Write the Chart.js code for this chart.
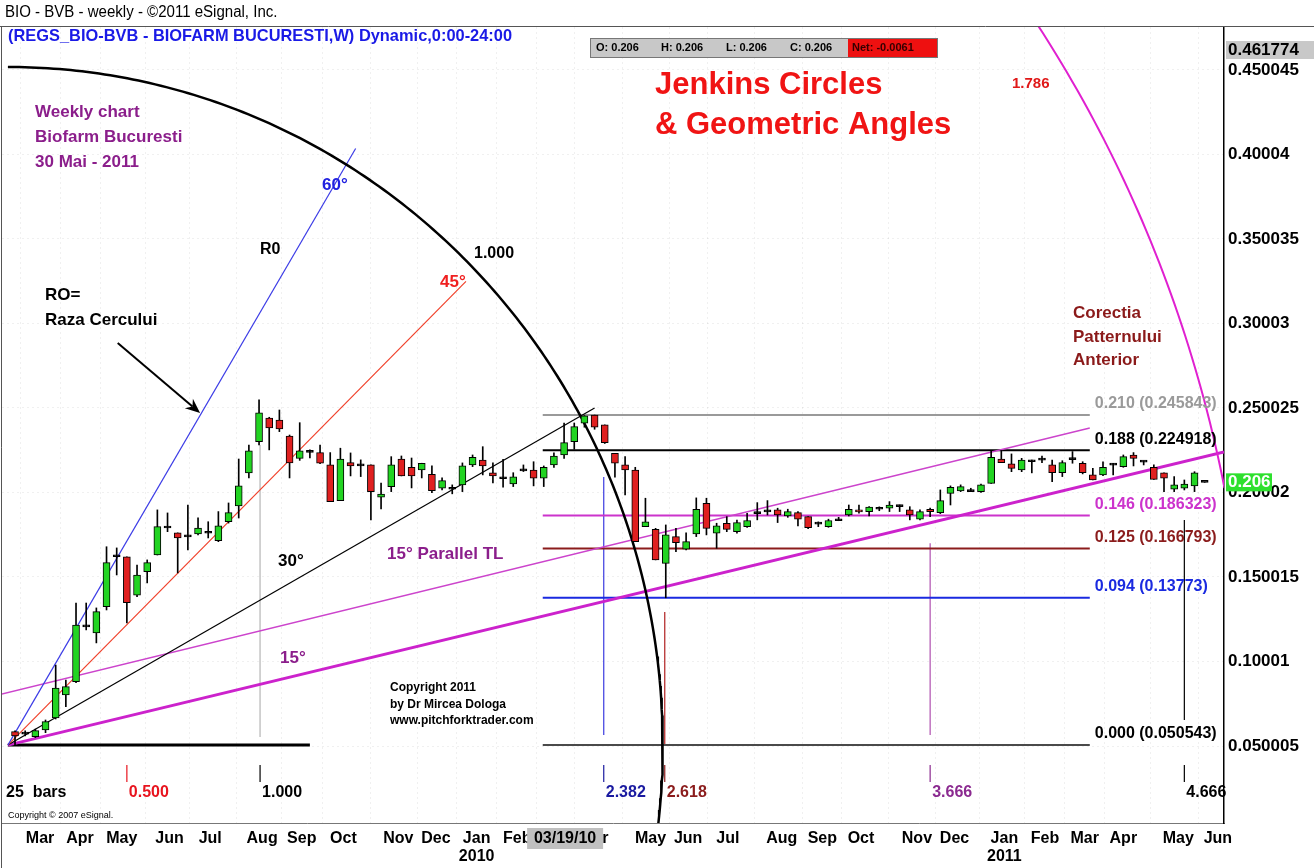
<!DOCTYPE html>
<html>
<head>
<meta charset="utf-8">
<script src="https://cdn.jsdelivr.net/npm/chart.js@4.4.0/dist/chart.umd.min.js"></script>
<style>
  html, body { margin: 0; padding: 0; background: #fff; }
  canvas { display: block; }
</style>
</head>
<body>
<canvas id="chart" width="1314" height="868"></canvas>
<script>
// weekly candles, BIO (Biofarm Bucuresti), Mar 2009 - May 2011, index = week number
const open = [
  0.0585, 0.0570, 0.0555, 0.0595, 0.0666, 0.0802, 0.0881, 0.1205, 0.1169, 0.1324,
  0.1620, 0.1620, 0.1393, 0.1532, 0.1630, 0.1790, 0.1761, 0.1737, 0.1755, 0.1759,
  0.1715, 0.1828, 0.1920, 0.2115, 0.2301, 0.2440, 0.2429, 0.2334, 0.2202, 0.2237,
  0.2236, 0.2163, 0.1952, 0.2177, 0.2157, 0.2163, 0.1972, 0.2035, 0.2197, 0.2149,
  0.2133, 0.2108, 0.2025, 0.2019, 0.2045, 0.2163, 0.2192, 0.2117, 0.2081, 0.2050,
  0.2128, 0.2133, 0.2084, 0.2163, 0.2222, 0.2301, 0.2410, 0.2458, 0.2400, 0.2232,
  0.2163, 0.2133, 0.1798, 0.1782, 0.1581, 0.1739, 0.1664, 0.1755, 0.1936, 0.1759,
  0.1818, 0.1768, 0.1798, 0.1875, 0.1885, 0.1897, 0.1861, 0.1881, 0.1857, 0.1813,
  0.1798, 0.1833, 0.1867, 0.1895, 0.1887, 0.1901, 0.1907, 0.1916, 0.1897, 0.1842,
  0.1901, 0.1880, 0.1995, 0.2009, 0.2005, 0.2005, 0.2054, 0.2198, 0.2169, 0.2133,
  0.2182, 0.2191, 0.2163, 0.2117, 0.2194, 0.2173, 0.2104, 0.2104, 0.2162, 0.2153,
  0.2222, 0.2180, 0.2149, 0.2117, 0.2019, 0.2025, 0.2039, 0.2060
];
const high = [
  0.0590, 0.0590, 0.0600, 0.0654, 0.0979, 0.0890, 0.1346, 0.1346, 0.1317, 0.1679,
  0.1672, 0.1620, 0.1571, 0.1601, 0.1897, 0.1879, 0.1761, 0.1926, 0.1850, 0.1827,
  0.1887, 0.1938, 0.2198, 0.2281, 0.2548, 0.2445, 0.2488, 0.2340, 0.2413, 0.2252,
  0.2281, 0.2236, 0.2262, 0.2234, 0.2193, 0.2163, 0.2056, 0.2212, 0.2216, 0.2204,
  0.2173, 0.2157, 0.2086, 0.2045, 0.2175, 0.2222, 0.2271, 0.2175, 0.2196, 0.2117,
  0.2163, 0.2182, 0.2157, 0.2234, 0.2411, 0.2411, 0.2455, 0.2458, 0.2400, 0.2232,
  0.2212, 0.2149, 0.1966, 0.1788, 0.1808, 0.1788, 0.1762, 0.1968, 0.1966, 0.1818,
  0.1857, 0.1837, 0.1877, 0.1940, 0.1952, 0.1907, 0.1901, 0.1887, 0.1857, 0.1826,
  0.1842, 0.1853, 0.1926, 0.1926, 0.1916, 0.1915, 0.1946, 0.1926, 0.1916, 0.1897,
  0.1907, 0.2015, 0.2039, 0.2045, 0.2025, 0.2050, 0.2247, 0.2249, 0.2228, 0.2202,
  0.2192, 0.2216, 0.2192, 0.2188, 0.2242, 0.2182, 0.2143, 0.2182, 0.2173, 0.2222,
  0.2236, 0.2187, 0.2163, 0.2117, 0.2094, 0.2074, 0.2123, 0.2060
];
const low = [
  0.0505, 0.0560, 0.0550, 0.0579, 0.0660, 0.0733, 0.0875, 0.1187, 0.1110, 0.1305,
  0.1512, 0.1228, 0.1384, 0.1465, 0.1630, 0.1768, 0.1524, 0.1660, 0.1749, 0.1731,
  0.1709, 0.1819, 0.1849, 0.2086, 0.2281, 0.2252, 0.2360, 0.2086, 0.2190, 0.2205,
  0.2170, 0.1946, 0.1952, 0.2098, 0.2094, 0.1837, 0.1903, 0.2005, 0.2098, 0.2027,
  0.2086, 0.1999, 0.2015, 0.1992, 0.2005, 0.2153, 0.2104, 0.2056, 0.2031, 0.2035,
  0.2124, 0.2039, 0.2035, 0.2149, 0.2202, 0.2256, 0.2386, 0.2374, 0.2290, 0.2090,
  0.1985, 0.1709, 0.1798, 0.1601, 0.1377, 0.1650, 0.1660, 0.1739, 0.1749, 0.1670,
  0.1768, 0.1759, 0.1794, 0.1838, 0.1867, 0.1822, 0.1853, 0.1802, 0.1786, 0.1798,
  0.1794, 0.1833, 0.1861, 0.1877, 0.1861, 0.1892, 0.1887, 0.1887, 0.1838, 0.1838,
  0.1857, 0.1875, 0.1926, 0.2005, 0.2005, 0.2000, 0.2054, 0.2177, 0.2123, 0.2123,
  0.2116, 0.2177, 0.2064, 0.2094, 0.2173, 0.2110, 0.2074, 0.2100, 0.2104, 0.2149,
  0.2157, 0.2163, 0.2078, 0.2005, 0.2005, 0.2015, 0.2005, 0.2060
];
const close = [
  0.0559, 0.0575, 0.0591, 0.0644, 0.0843, 0.0851, 0.1216, 0.1210, 0.1295, 0.1585,
  0.1626, 0.1348, 0.1512, 0.1585, 0.1798, 0.1795, 0.1731, 0.1741, 0.1790, 0.1762,
  0.1802, 0.1881, 0.2039, 0.2246, 0.2471, 0.2382, 0.2376, 0.2175, 0.2247, 0.2238,
  0.2173, 0.1946, 0.2198, 0.2157, 0.2159, 0.2005, 0.1991, 0.2163, 0.2098, 0.2098,
  0.2173, 0.2011, 0.2070, 0.2021, 0.2157, 0.2208, 0.2157, 0.2098, 0.2083, 0.2092,
  0.2130, 0.2084, 0.2149, 0.2216, 0.2295, 0.2390, 0.2453, 0.2386, 0.2295, 0.2173,
  0.2133, 0.1709, 0.1827, 0.1601, 0.1749, 0.1703, 0.1709, 0.1901, 0.1788, 0.1802,
  0.1782, 0.1822, 0.1834, 0.1877, 0.1887, 0.1867, 0.1887, 0.1842, 0.1792, 0.1815,
  0.1834, 0.1835, 0.1901, 0.1885, 0.1913, 0.1903, 0.1926, 0.1918, 0.1867, 0.1887,
  0.1887, 0.1952, 0.2031, 0.2035, 0.2007, 0.2045, 0.2208, 0.2177, 0.2143, 0.2192,
  0.2184, 0.2193, 0.2117, 0.2177, 0.2196, 0.2117, 0.2074, 0.2149, 0.2164, 0.2212,
  0.2202, 0.2182, 0.2078, 0.2084, 0.2045, 0.2050, 0.2117, 0.2060
];

// axis ticks
const monthPos = [2.46, 6.39, 10.5, 15.2, 19.2, 24.3, 28.2, 32.3, 37.7, 41.4, 45.4, 49.4, 53.1, 57.0,
  62.5, 66.2, 70.1, 75.4, 79.4, 83.2, 88.7, 92.4, 97.3, 101.3, 105.2, 109.0, 114.4, 118.3];
const monthLabels = ['Mar', 'Apr', 'May', 'Jun', 'Jul', 'Aug', 'Sep', 'Oct', 'Nov', 'Dec', ['Jan', '2010'], 'Feb',
  'Mar', 'Apr', 'May', 'Jun', 'Jul', 'Aug', 'Sep', 'Oct', 'Nov', 'Dec', ['Jan', '2011'], 'Feb', 'Mar', 'Apr', 'May', 'Jun'];
const priceTicks = [0.050005, 0.10001, 0.150015, 0.20002, 0.250025, 0.30003, 0.350035, 0.40004, 0.450045];
const priceLabels = ['0.050005', '0.10001', '0.150015', '0.20002', '0.250025', '0.30003', '0.350035', '0.40004', '0.450045'];
const lastPrice = 0.206;
const topPrice = 0.461774;

// Jenkins construction
const pivot = [-0.7, 0.050543];
const angleEnds = [[33.5, 0.4035], [44.35, 0.3249], [57.0, 0.2500], [118.9, 0.2240]];
const parallelTL = [[-1.3, 0.0808], [105.7, 0.2382]];
const circle1 = [64.4, 0.4012];   // 1.000 circle radii (bars, price)
const circle2 = [122.1, 0.7627];  // 1.786 circle radii
const fibRatio = ['0.210', '0.188', '0.146', '0.125', '0.094', '0.000'];
const fibPrice = [0.245843, 0.224918, 0.186323, 0.166793, 0.13773, 0.050543];
const fibRange = [51.9, 105.7];
const baseRange = [-0.7, 29.0];
const timeRatio = ['0.500', '1.000', '2.382', '2.618', '3.666', '4.666'];
const timeIdx = [11.0, 24.1, 57.9, 63.9, 90.0, 115.0];
const timeTop = [null, 0.2281, 0.2092, 0.1293, 0.1700, 0.1837];
const timeBottom = [null, 0.0553, 0.0565, 0.0506, 0.0565, 0.0654];
const arrowPts = [[10.1, 0.2885], [18.2, 0.2470]];
const markerIdx = 54.1;

const GREEN = '#22d422', RED = '#e02020';
const fibColors = ['#9a9a9a', '#000000', '#cc33cc', '#8b1c1c', '#1a2ae0', '#4a4a4a'];
const timeColors = ['#e8141e', '#000000', '#1a1aa0', '#8b1c1c', '#8b2a90', '#000000'];
const vlineColors = [null, '#c4c4c4', '#3a3ae0', '#b02020', '#b050b0', '#000000'];
const FONT = '"Liberation Sans", Arial, sans-serif';

Chart.defaults.font.family = FONT;

const idx = open.map((_, i) => i);
const bodies = idx.map(i => ({ x: i, y: [open[i], close[i]] }));
const bodyColors = idx.map(i => {
  const d = close[i] - open[i];
  if (Math.abs(d) < 0.0008) return '#000';
  return d > 0 ? GREEN : RED;
});
const wicks = idx.map(i => ({ x: i, y: [low[i], high[i]] }));

function line(pts, color, width, order) {
  return {
    type: 'line', data: pts.map(p => ({ x: p[0], y: p[1] })),
    borderColor: color, borderWidth: width, pointRadius: 0, tension: 0, fill: false, order
  };
}

function arc(r, a0, a1) {
  const pts = [];
  for (let a = a0; a >= a1; a -= 0.5) {
    const t = a * Math.PI / 180;
    pts.push([pivot[0] + r[0] * Math.cos(t), pivot[1] + r[1] * Math.sin(t)]);
  }
  return pts;
}

const datasets = [
  {
    type: 'bar', data: bodies, backgroundColor: bodyColors, borderColor: '#000', borderWidth: 1,
    borderSkipped: false, barThickness: 7, minBarLength: 2, grouped: false, order: 0
  },
  {
    type: 'bar', data: wicks, backgroundColor: '#000', borderWidth: 0,
    barThickness: 1, grouped: false, order: 1
  },
  line([pivot, angleEnds[0]], '#3c3ce6', 1.2, 3),
  line([pivot, angleEnds[1]], '#f0402a', 1.2, 3),
  line([pivot, angleEnds[2]], '#000', 1.2, 3),
  line([pivot, angleEnds[3]], '#cc22cc', 3, 3),
  line(parallelTL, '#cc44cc', 1.5, 3),
  line(arc(circle1, 90, -10), '#000', 2.5, 2),
  line(arc(circle2, 45, 0), '#e020d0', 2, 2),
  line([[baseRange[0], pivot[1]], [baseRange[1], pivot[1]]], '#000', 3, 3)
];
fibPrice.forEach((p, k) => {
  datasets.push(line([[fibRange[0], p], [fibRange[1], p]], fibColors[k], 2, 4));
});
timeIdx.forEach((t, k) => {
  if (timeTop[k] === null) return;
  datasets.push(line([[t, timeBottom[k]], [t, timeTop[k]]], vlineColors[k], k === 1 ? 1.5 : 1.2, 5));
});

function txt(ctx, s, x, y, color, font, align, sx) {
  ctx.save();
  ctx.font = font;
  ctx.fillStyle = color;
  ctx.textAlign = align || 'left';
  ctx.textBaseline = 'middle';
  ctx.translate(x, y);
  if (sx) ctx.scale(sx, 1);
  ctx.fillText(s, 0, 0);
  ctx.restore();
}

const overlay = {
  id: 'overlay',
  afterDatasetsDraw(chart) {
    const { ctx, scales: { x, y } } = chart;
    const px = v => x.getPixelForValue(v), py = v => y.getPixelForValue(v);
    ctx.save();

    // retracement labels
    fibPrice.forEach((p, k) => {
      txt(ctx, fibRatio[k] + ' (' + p + ')', px(fibRange[1]) + 5, py(p) - 11, fibColors[k] === '#4a4a4a' ? '#000' : fibColors[k], 'bold 16px ' + FONT);
    });

    // time ratio ticks and labels
    const base = py(pivot[1]);
    timeIdx.forEach((t, k) => {
      ctx.strokeStyle = timeColors[k];
      ctx.lineWidth = 1.2;
      ctx.beginPath();
      ctx.moveTo(px(t), base + 20);
      ctx.lineTo(px(t), base + 37);
      ctx.stroke();
      txt(ctx, timeRatio[k], px(t) + 2, base + 48, timeColors[k], 'bold 16px ' + FONT);
    });
    txt(ctx, '25  bars', 6, base + 48, '#000', 'bold 16px ' + FONT);

    // arrow to 60° line
    const a0 = [px(arrowPts[0][0]), py(arrowPts[0][1])], a1 = [px(arrowPts[1][0]), py(arrowPts[1][1])];
    const ang = Math.atan2(a1[1] - a0[1], a1[0] - a0[0]);
    ctx.strokeStyle = '#000';
    ctx.fillStyle = '#000';
    ctx.lineWidth = 2;
    ctx.beginPath();
    ctx.moveTo(a0[0], a0[1]);
    ctx.lineTo(a1[0] - 10 * Math.cos(ang), a1[1] - 10 * Math.sin(ang));
    ctx.stroke();
    ctx.beginPath();
    ctx.moveTo(a1[0], a1[1]);
    ctx.lineTo(a1[0] - 16 * Math.cos(ang - 0.4), a1[1] - 16 * Math.sin(ang - 0.4));
    ctx.lineTo(a1[0] - 10 * Math.cos(ang), a1[1] - 10 * Math.sin(ang));
    ctx.lineTo(a1[0] - 16 * Math.cos(ang + 0.4), a1[1] - 16 * Math.sin(ang + 0.4));
    ctx.closePath();
    ctx.fill();

    // annotations
    const B17 = 'bold 17px ' + FONT;
    txt(ctx, 'Jenkins Circles', 655, 85, '#f01414', 'bold 31px ' + FONT);
    txt(ctx, '& Geometric Angles', 655, 125, '#f01414', 'bold 31px ' + FONT);
    txt(ctx, '1.786', 1012, 84, '#e01818', 'bold 15px ' + FONT);
    txt(ctx, 'Weekly chart', 35, 112, '#8b1e8b', B17);
    txt(ctx, 'Biofarm Bucuresti', 35, 137, '#8b1e8b', B17);
    txt(ctx, '30 Mai - 2011', 35, 162, '#8b1e8b', B17);
    txt(ctx, '60°', 322, 185, '#2020e0', B17);
    txt(ctx, 'R0', 260, 250, '#000', 'bold 16px ' + FONT);
    txt(ctx, '1.000', 474, 254, '#000', 'bold 16px ' + FONT);
    txt(ctx, '45°', 440, 282, '#f02020', B17);
    txt(ctx, 'RO=', 45, 295, '#000', B17);
    txt(ctx, 'Raza Cercului', 45, 320, '#000', B17);
    txt(ctx, 'Corectia', 1073, 313, '#8b1a1a', B17);
    txt(ctx, 'Patternului', 1073, 337, '#8b1a1a', B17);
    txt(ctx, 'Anterior', 1073, 360, '#8b1a1a', B17);
    txt(ctx, '15° Parallel TL', 387, 554, '#8b1e8b', B17);
    txt(ctx, '30°', 278, 561, '#000', B17);
    txt(ctx, '15°', 280, 658, '#8b1e8b', B17);
    txt(ctx, 'Copyright 2011', 390, 688, '#000', 'bold 12px ' + FONT);
    txt(ctx, 'by Dr Mircea Dologa', 390, 705, '#000', 'bold 12px ' + FONT);
    txt(ctx, 'www.pitchforktrader.com', 390, 721, '#000', 'bold 12px ' + FONT);
    txt(ctx, 'Copyright © 2007 eSignal.', 8, 816, '#000', '9px ' + FONT);
    ctx.restore();
  },
  afterDraw(chart) {
    const { ctx, scales: { x, y }, chartArea: ca } = chart;
    ctx.save();
    // header
    txt(ctx, 'BIO - BVB - weekly - ©2011 eSignal, Inc.', 5, 13, '#000', '16px ' + FONT, 'left', 0.94);
    ctx.strokeStyle = '#555';
    ctx.lineWidth = 1;
    ctx.beginPath();
    ctx.moveTo(0, 26.5); ctx.lineTo(1314, 26.5);
    ctx.moveTo(1.5, 26.5); ctx.lineTo(1.5, 868);
    ctx.stroke();
    txt(ctx, '(REGS_BIO-BVB - BIOFARM BUCURESTI,W) Dynamic,0:00-24:00', 8, 36, '#1a1ae6', 'bold 17px ' + FONT, 'left', 0.965);

    // OHLC status box
    ctx.fillStyle = '#c8c8c8';
    ctx.fillRect(590, 38, 258, 19);
    ctx.fillStyle = '#ee1010';
    ctx.fillRect(848, 38, 89, 19);
    ctx.strokeStyle = '#777';
    ctx.strokeRect(590.5, 38.5, 347, 19);
    const F11 = 'bold 11px ' + FONT;
    txt(ctx, 'O: 0.206', 596, 48, '#000', F11);
    txt(ctx, 'H: 0.206', 661, 48, '#000', F11);
    txt(ctx, 'L: 0.206', 726, 48, '#000', F11);
    txt(ctx, 'C: 0.206', 790, 48, '#000', F11);
    txt(ctx, 'Net: -0.0061', 852, 48, '#300', F11);

    // right axis highlights
    const yt = y.getPixelForValue(topPrice);
    ctx.fillStyle = '#c8c8c8';
    ctx.fillRect(ca.right + 2, yt - 9, 1314 - ca.right - 2, 18);
    txt(ctx, String(topPrice), ca.right + 4, yt, '#000', 'bold 17px ' + FONT);
    const yl = y.getPixelForValue(lastPrice);
    ctx.fillStyle = '#2ee02e';
    ctx.fillRect(ca.right + 2, yl - 9, 46, 18);
    txt(ctx, String(lastPrice), ca.right + 4, yl, '#fff', 'bold 17px ' + FONT);

    // crosshair date marker on time axis
    const xm = x.getPixelForValue(markerIdx);
    ctx.fillStyle = '#c0c0c0';
    ctx.fillRect(xm - 38, ca.bottom + 5, 76, 21);
    txt(ctx, '03/19/10', xm, ca.bottom + 16, '#000', 'bold 16px ' + FONT, 'center');
    ctx.restore();
  }
};

new Chart(document.getElementById('chart').getContext('2d'), {
  data: { datasets },
  options: {
    responsive: false,
    animation: false,
    devicePixelRatio: 1,
    layout: { padding: { left: 2, top: 27, right: 0, bottom: 0 } },
    plugins: { legend: { display: false }, tooltip: { enabled: false } },
    scales: {
      x: {
        type: 'linear', min: -1.28, max: 118.9, offset: false,
        afterBuildTicks: s => { s.ticks = monthPos.map(v => ({ value: v })); },
        afterFit: s => { s.height = 45; },
        ticks: {
          callback: (v, i) => monthLabels[i], autoSkip: false, maxRotation: 0, minRotation: 0,
          padding: 6, color: '#000', font: { size: 16, weight: 'bold', lineHeight: 1.15 }
        },
        grid: { color: 'rgba(0,0,0,0.06)', drawTicks: false },
        border: { color: '#777', width: 1, dash: [2, 3] }
      },
      y: {
        type: 'linear', position: 'right', min: 0.00445, max: 0.4754,
        afterBuildTicks: s => { s.ticks = priceTicks.map(v => ({ value: v })); },
        afterFit: s => { s.width = 90; },
        ticks: {
          callback: (v, i) => priceLabels[i], padding: 4, color: '#000',
          font: { size: 17, weight: 'bold' }
        },
        grid: { color: 'rgba(0,0,0,0.06)', drawTicks: false },
        border: { color: '#000', width: 1.5, dash: [2, 3] }
      }
    }
  },
  plugins: [overlay]
});
</script>
</body>
</html>
